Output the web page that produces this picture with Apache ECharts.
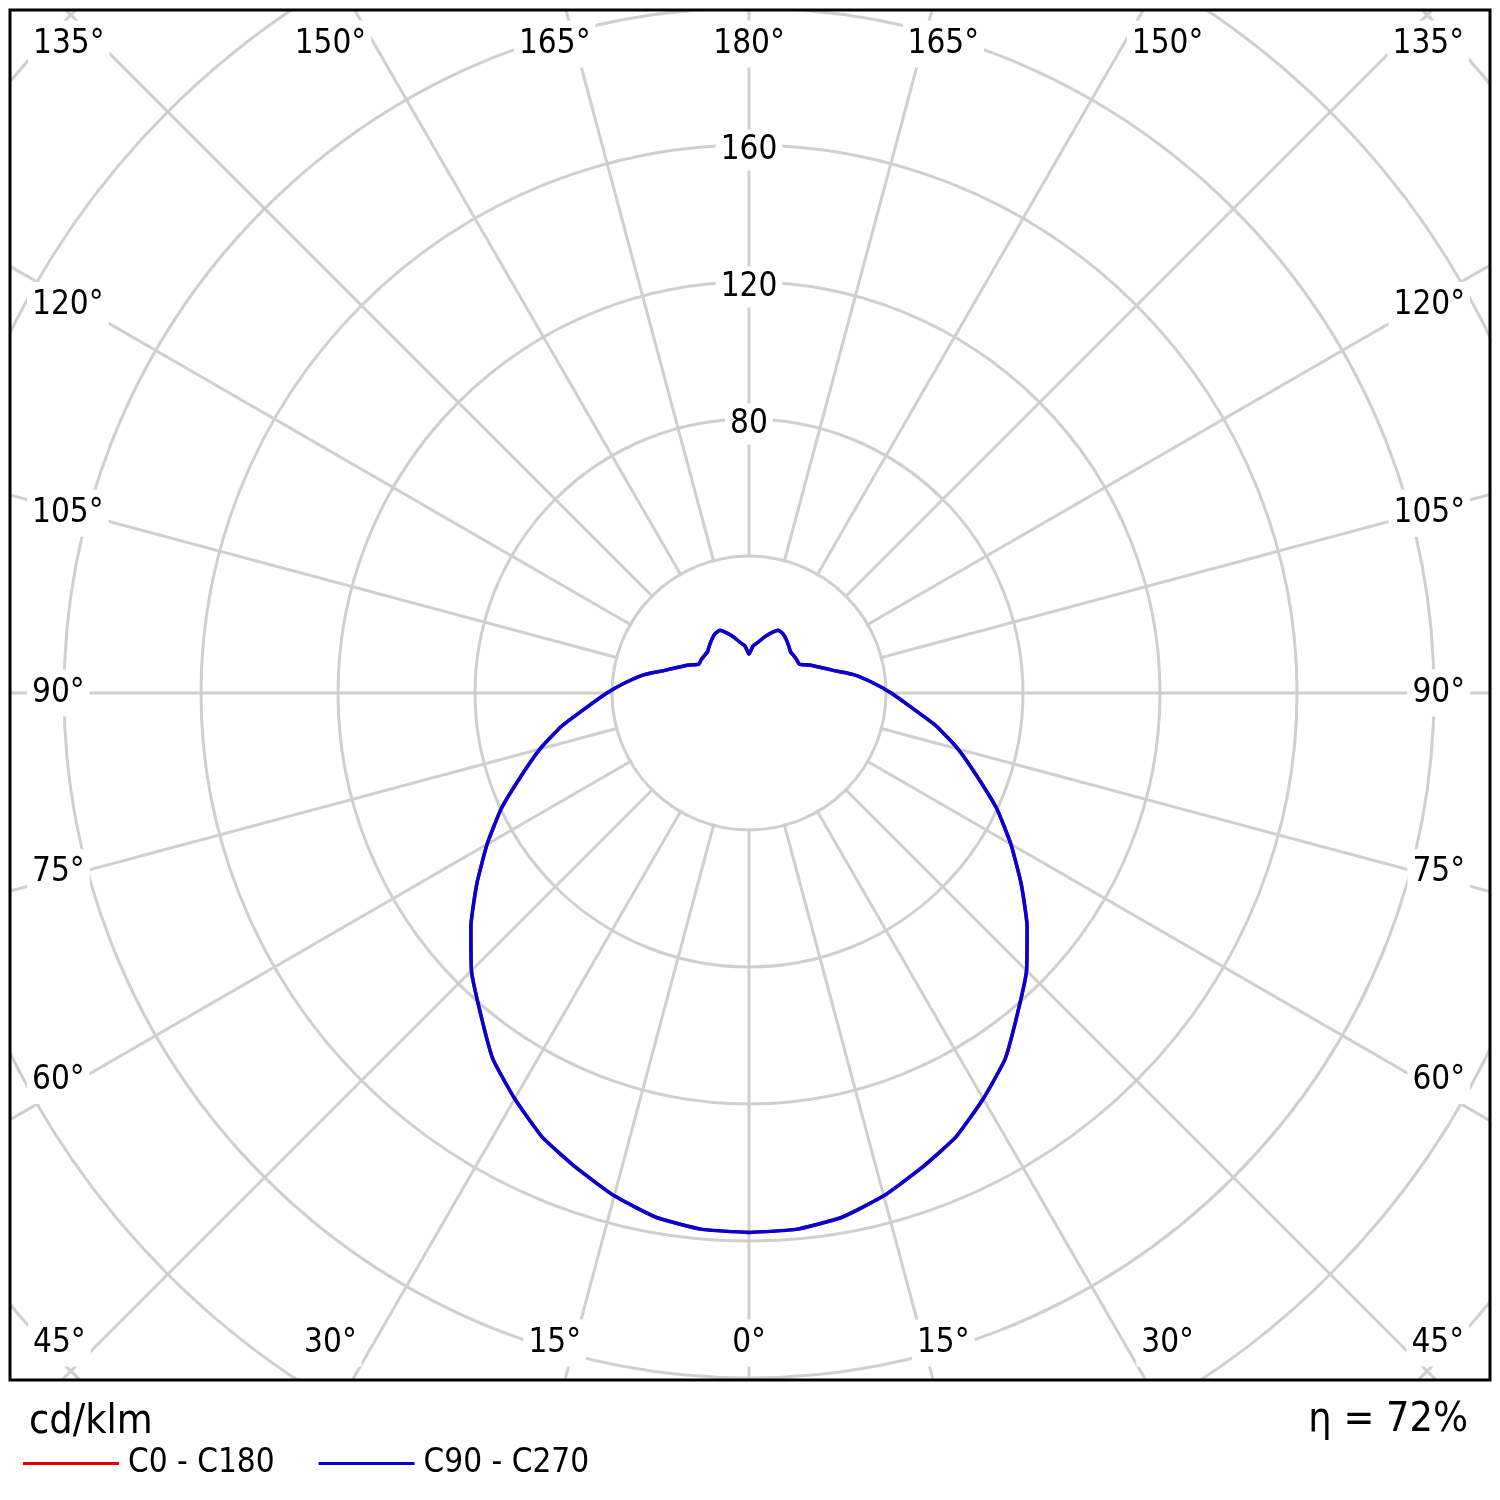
<!DOCTYPE html>
<html>
<head>
<meta charset="utf-8">
<script src="https://cdn.jsdelivr.net/npm/echarts@6/dist/echarts.min.js"></script>
<style>
  html, body { margin: 0; background: #fff; }
  #chart { width: 1500px; height: 1500px; }
</style>
</head>
<body>
<div id="chart"></div>
<script>
// gamma angles (deg from nadir) and luminous intensity in cd/klm
const GAMMA = [0, 5, 10, 15, 20, 25, 30, 35, 40, 45, 50, 55, 60, 65, 70, 75, 80, 85, 90,
  95, 100, 105, 110, 115, 120, 125, 130, 135, 140, 145, 150, 155, 160, 165, 170, 175, 180]
const C90_C270 = [157.5, 157.2, 155.5, 152, 147.5, 143, 136.8, 130.4, 122, 114.6, 106, 97, 88.3, 79.8, 70.8, 63.2, 55.5, 47.5, 41.5,
  36, 31, 25.5, 22, 19.3, 16.9, 17, 17, 17.1, 18, 19, 19.9, 20.2, 18.6, 16.8, 15, 13.8, 11.4]
// C0 - C180 coincides with C90 - C270 (drawn underneath)
const C0_C180 = [157.5, 157.2, 155.5, 152, 147.5, 143, 136.8, 130.4, 122, 114.6, 106, 97, 88.3, 79.8, 70.8, 63.2, 55.5, 47.5, 41.5,
  36, 31, 25.5, 22, 19.3, 16.9, 17, 17, 17.1, 18, 19, 19.9, 20.2, 18.6, 16.8, 15, 13.8, 11.4]
const RING_LABELS = [80, 120, 160]
const ANGLE_LABELS = [0, 15, 30, 45, 60, 75, 90, 105, 120, 135, 150, 165, 180]
const UNIT = 'cd/klm'
const ETA = 'η = 72%'

const FONT = '"DejaVu Sans Condensed", "Liberation Sans Narrow", "DejaVu Sans", sans-serif'
const GRID = '#cfcfcf'
const CX = 749, CY = 693, PX40 = 137, RMAX = 320
const FR = { l: 10, t: 10, r: 1490, b: 1380 }
const rad = (d) => d * Math.PI / 180

// left half uses angle g, right half 360 - g, so the curve closes
function loop(vals) {
  const left = GAMMA.map((g, i) => [vals[i], g])
  const right = []
  for (let i = GAMMA.length - 2; i >= 0; i--) right.push([vals[i], 360 - GAMMA[i]])
  return left.concat(right)
}

// angle labels sit on the frame where the spokes run out
function angleLabels() {
  const out = []
  ANGLE_LABELS.forEach((a) => {
    const sides = (a === 0 || a === 180) ? [1] : [-1, 1]
    sides.forEach((s) => {
      let x, y, align = 'center'
      if (a <= 45 || a >= 135) {
        y = a <= 45 ? 1343 : 44
        const phi = a <= 45 ? a : 180 - a
        if (phi === 45) { x = s < 0 ? 28 : 1469; align = s < 0 ? 'left' : 'right' }
        else x = CX + s * 725 * Math.tan(rad(phi))
      } else {
        y = CY + 671 * Math.tan(rad(90 - a))
        x = s < 0 ? 27 : 1470; align = s < 0 ? 'left' : 'right'
      }
      out.push({
        type: 'text', x, y, z: 12,
        style: { text: a + '°', fontSize: 33, fontFamily: FONT, fill: '#000', align, verticalAlign: 'middle',
          backgroundColor: '#fff', padding: [7, 5] },
      })
    })
  })
  return out
}

const chart = echarts.init(document.getElementById('chart'), null, { renderer: 'canvas' })
chart.setOption({
  animation: false,
  backgroundColor: '#fff',
  textStyle: { fontFamily: FONT },
  polar: { center: [CX, CY], radius: RMAX / 40 * PX40 },
  angleAxis: {
    type: 'value', min: 0, max: 360, interval: 15, startAngle: 270, clockwise: true, z: 0,
    axisLine: { show: false }, axisTick: { show: false }, axisLabel: { show: false },
    splitLine: { lineStyle: { color: GRID, width: 3 } },
  },
  radiusAxis: {
    type: 'value', min: 0, max: RMAX, interval: 40, z: 2,
    axisLine: { show: false }, axisTick: { show: false }, axisLabel: { show: false },
    splitLine: { lineStyle: { color: GRID, width: 3 } },
  },
  legend: {
    data: ['C0 - C180', 'C90 - C270'], left: 23, top: 1447, padding: 0, z: 12,
    icon: 'rect', itemWidth: 96, itemHeight: 3, itemGap: 44,
    textStyle: { fontSize: 33, fontFamily: FONT, color: '#000', padding: [0, 0, 0, 4] },
  },
  graphic: [
    { type: 'circle', shape: { cx: CX, cy: CY, r: PX40 - 1.6 }, style: { fill: '#fff' }, z: 1 },
    { type: 'rect', shape: { x: 0, y: 0, width: 1500, height: FR.t }, style: { fill: '#fff' }, z: 10 },
    { type: 'rect', shape: { x: 0, y: 0, width: FR.l, height: 1500 }, style: { fill: '#fff' }, z: 10 },
    { type: 'rect', shape: { x: FR.r, y: 0, width: 1500 - FR.r, height: 1500 }, style: { fill: '#fff' }, z: 10 },
    { type: 'rect', shape: { x: 0, y: FR.b, width: 1500, height: 1500 - FR.b }, style: { fill: '#fff' }, z: 10 },
    { type: 'rect', shape: { x: FR.l, y: FR.t, width: FR.r - FR.l, height: FR.b - FR.t },
      style: { fill: 'none', stroke: '#000', lineWidth: 3 }, z: 11 },
    { type: 'text', x: 29, y: 1422, z: 12,
      style: { text: UNIT, fontSize: 41, fontFamily: FONT, fill: '#000', verticalAlign: 'middle' } },
    { type: 'text', x: 1468, y: 1420, z: 12,
      style: { text: ETA, fontSize: 41, fontFamily: FONT, fill: '#000', align: 'right', verticalAlign: 'middle' } },
    ...angleLabels(),
  ],
  series: [
    { name: 'C0 - C180', type: 'line', coordinateSystem: 'polar', data: loop(C0_C180), showSymbol: false, z: 3,
      smooth: 0.15, color: '#e00000', lineStyle: { color: '#e00000', width: 3.5 } },
    { name: 'C90 - C270', type: 'line', coordinateSystem: 'polar', data: loop(C90_C270), showSymbol: false, z: 3,
      smooth: 0.15, color: '#0000d8', lineStyle: { color: '#0000d8', width: 3.5 } },
    { type: 'scatter', coordinateSystem: 'polar', symbolSize: 0, z: 4, silent: true,
      itemStyle: { opacity: 1 },
      data: RING_LABELS.map((v) => [v, 180]),
      label: { show: true, position: 'inside', offset: [0, 5], formatter: (p) => p.value[0], fontSize: 33,
        fontFamily: FONT, color: '#000', opacity: 1, backgroundColor: '#fff', padding: [4, 5] } },
  ],
})
</script>
</body>
</html>
